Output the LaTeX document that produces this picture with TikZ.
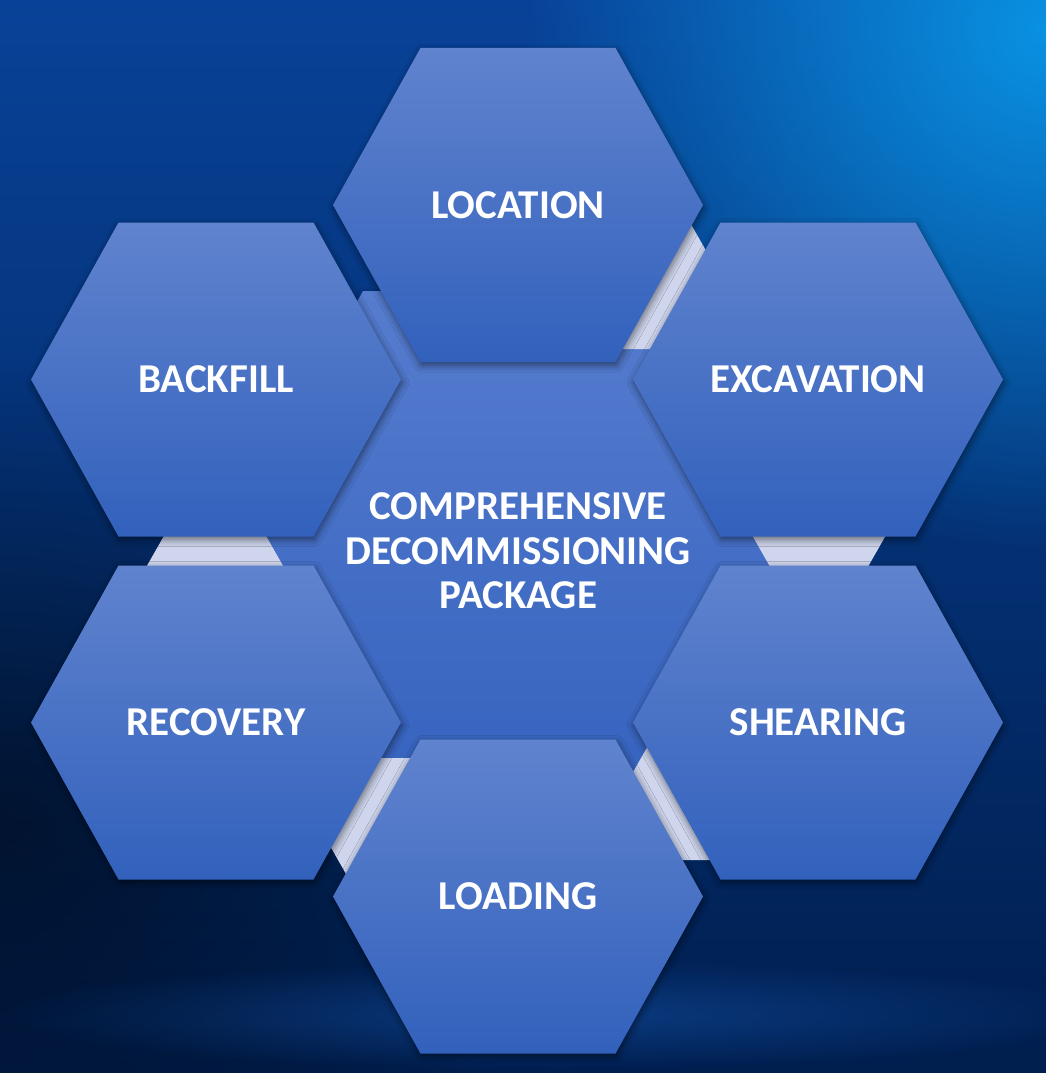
\documentclass[tikz,border=0pt]{standalone}
\usepackage{fontspec}
\setmainfont{Carlito}
\usetikzlibrary{shadows.blur,fadings}

\definecolor{hexTop}{RGB}{96,131,206}
\definecolor{hexBot}{RGB}{50,97,188}
\definecolor{midTop}{RGB}{86,124,206}
\definecolor{midBot}{RGB}{52,98,190}
\definecolor{gapCol}{RGB}{206,213,236}
\definecolor{bgA}{RGB}{8,66,152}
\definecolor{bgB}{RGB}{2,44,108}
\definecolor{bgC}{RGB}{0,30,78}
\definecolor{bgGlow}{RGB}{10,150,230}
\definecolor{bgStreak}{RGB}{20,80,165}

\tikzfading[name=softglow, inner color=transparent!0, outer color=transparent!100]

% path of a hexagon with pointed left/right ends: half width, half height, inset
\newcommand\hexagonpath[3]{(-#1,0) -- (-#1+#3,-#2) -- (#1-#3,-#2) -- (#1,0) -- (#1-#3,#2) -- (-#1+#3,#2) -- cycle}

\begin{document}
\begin{tikzpicture}[x=1pt,y=-1pt,
  hexshape/.style={top color=hexTop, bottom color=hexBot, draw=none,
     blur shadow={shadow xshift=1pt, shadow yshift=-3pt, shadow blur radius=7pt, shadow opacity=50}},
  midshape/.style={top color=midTop, bottom color=midBot, draw=none,
     blur shadow={shadow xshift=1pt, shadow yshift=-3pt, shadow blur radius=7pt, shadow opacity=40}},
  gapshape/.style={fill=gapCol, draw=none},
  lbl/.style={text=white, font=\fontsize{41}{44.5}\selectfont\bfseries, align=center, inner sep=0pt}]

\useasboundingbox (0,0) rectangle (1046,1073);

% background
\begin{scope}
\clip (0,0) rectangle (1046,1073);
\shade[top color=bgA, middle color=bgB, bottom color=bgC] (0,0) rectangle (1046,1073);
\fill[black, opacity=0.5, path fading=softglow] (0,820) ellipse (560 and 460);
\fill[bgStreak, opacity=0.55, path fading=softglow] (560,1015) ellipse (560 and 55);
\fill[bgGlow, opacity=0.95, path fading=softglow] (1046,30) circle (520);
\end{scope}

% centres
\coordinate (cMid) at (518,551);
\coordinate (cLoc) at (518,205);
\coordinate (cBac) at (216,379.5);
\coordinate (cExc) at (818,379.5);
\coordinate (cRec) at (216,722.5);
\coordinate (cShe) at (818,722.5);
\coordinate (cLoa) at (518,896.5);
\coordinate (g1) at (650,284);
\coordinate (g2) at (819,521);
\coordinate (g3) at (695,795);
\coordinate (g4) at (392,823);
\coordinate (g5) at (215,578);

% central hexagon
\path[midshape, shift={(cMid)}] \hexagonpath{300}{260}{145};

% light links between outer hexagons
\foreach \g in {g1,g2,g3,g4,g5}
  \path[gapshape, shift={(\g)}] \hexagonpath{75}{65}{37};

% outer hexagons
\foreach \c in {cLoc,cBac,cExc,cRec,cShe,cLoa}
  \path[hexshape, shift={(\c)}] \hexagonpath{185}{157}{87.5};

% labels
\node[lbl] (mid) at (cMid) {COMPREHENSIVE\\DECOMMISSIONING\\PACKAGE};
\node[lbl] (loc) at (cLoc) {LOCATION};
\node[lbl] (bac) at (cBac) {BACKFILL};
\node[lbl] (exc) at (cExc) {EXCAVATION};
\node[lbl] (rec) at (cRec) {RECOVERY};
\node[lbl] (she) at (cShe) {SHEARING};
\node[lbl] (loa) at (cLoa) {LOADING};
\end{tikzpicture}
\end{document}
